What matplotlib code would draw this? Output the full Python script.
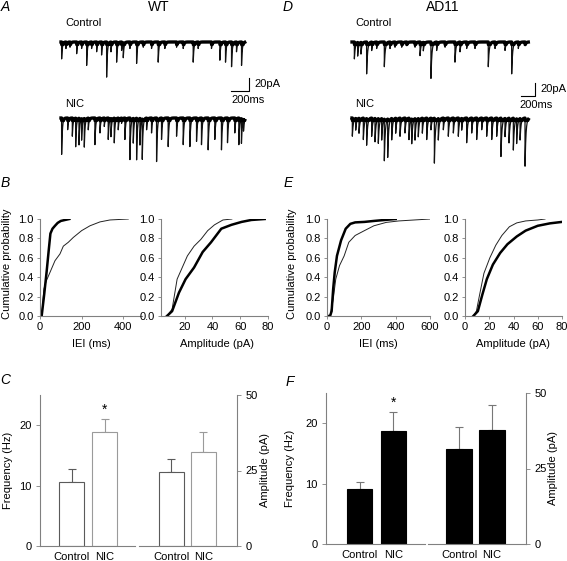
import numpy as np
import matplotlib
matplotlib.use("Agg")
import matplotlib.pyplot as plt

plt.rcParams['font.family'] = ['Liberation Sans', 'DejaVu Sans']
plt.rcParams['font.size'] = 8

W, H = 567, 561

# ---------------- DATA ----------------
# sample traces: event time (ms) and amplitude (pA)
wt_ctrl_t = [7, 55, 100, 174, 229, 285, 340, 396, 451, 507, 555, 618, 673, 692, 766,
             840, 914, 1006, 1080, 1154, 1284, 1358, 1469, 1524, 1672, 1765, 1828,
             1895, 1950, 2006]
wt_ctrl_a = [26, 10, 8, 18, 10, 36, 10, 15, 20, 54, 15, 31, 13, 23, 10,
             33, 8, 10, 31, 10, 8, 10, 31, 10, 10, 28, 31,
             38, 15, 36]
wt_nic_t = [7, 74, 126, 163, 200, 229, 259, 303, 377, 433, 481, 525, 555, 592, 636,
            673, 710, 766, 803, 840, 877, 903, 951, 1006, 1062, 1117, 1191, 1284,
            1358, 1432, 1506, 1561, 1635, 1709, 1783, 1850, 1931, 1976, 2005, 2028]
wt_nic_a = [56, 18, 28, 44, 41, 33, 44, 18, 41, 23, 13, 33, 28, 38, 18,
            8, 33, 64, 38, 64, 41, 62, 18, 23, 67, 33, 44, 28,
            41, 44, 36, 41, 49, 33, 49, 38, 23, 41, 38, 18]
wt_len = 2042

ad_ctrl_t = [34, 81, 128, 209, 281, 352, 462, 543, 614, 710, 781, 900, 972, 1019,
             1128, 1209, 1329, 1471, 1543, 1638, 1757, 1947, 2043, 2186, 2281,
             2376, 2472]
ad_ctrl_a = [26, 21, 18, 49, 13, 10, 38, 10, 8, 8, 5, 8, 21, 13,
             56, 13, 8, 31, 15, 10, 10, 38, 10, 13, 49,
             10, 5]
ad_nic_t = [5, 53, 100, 162, 209, 281, 329, 376, 424, 462, 510, 567, 624, 686, 757,
            814, 853, 900, 947, 1005, 1067, 1128, 1177, 1233, 1305, 1376, 1448,
            1519, 1567, 1638, 1710, 1781, 1853, 1924, 1996, 2067, 2128, 2186,
            2243, 2305, 2352, 2401, 2472]
ad_nic_a = [28, 18, 23, 33, 41, 28, 36, 38, 33, 64, 59, 33, 23, 28, 23,
            33, 38, 33, 28, 23, 33, 18, 69, 33, 18, 28, 23,
            28, 18, 38, 23, 33, 18, 28, 33, 28, 59, 28,
            38, 49, 38, 33, 74]
ad_len = 2519

# cumulative distributions
wt_iei_ctrl_x = [8, 19, 30, 48, 72, 96, 112, 136, 160, 200, 240, 288, 336, 424]
wt_iei_ctrl_p = [0, 0.28, 0.36, 0.45, 0.57, 0.64, 0.72, 0.76, 0.81, 0.88, 0.93, 0.97, 0.99, 1.0]
wt_iei_nic_x = [8, 20, 32, 42, 50, 60, 72, 85, 100, 120, 141]
wt_iei_nic_p = [0, 0.22, 0.46, 0.68, 0.85, 0.9, 0.93, 0.96, 0.98, 0.99, 1.0]
wt_amp_ctrl_x = [7.3, 11, 14.6, 18.3, 22, 26.8, 31.7, 36.6, 41.5, 47.6, 54]
wt_amp_ctrl_p = [0, 0.07, 0.38, 0.5, 0.62, 0.72, 0.79, 0.88, 0.94, 0.99, 1.0]
wt_amp_nic_x = [7.3, 11, 15.9, 20.7, 26.8, 33, 39, 46.4, 53.7, 61, 68, 77.6]
wt_amp_nic_p = [0, 0.05, 0.24, 0.38, 0.5, 0.66, 0.76, 0.9, 0.94, 0.97, 0.99, 1.0]

ad_iei_ctrl_x = [18, 36, 51, 73, 100, 127, 164, 218, 273, 345, 418, 600]
ad_iei_ctrl_p = [0, 0.17, 0.38, 0.52, 0.62, 0.76, 0.83, 0.88, 0.93, 0.965, 0.98, 1.0]
ad_iei_nic_x = [0, 18, 27, 36, 45, 58, 82, 109, 136, 164, 218, 273, 400]
ad_iei_nic_p = [0, 0, 0.05, 0.28, 0.45, 0.62, 0.78, 0.9, 0.95, 0.965, 0.97, 0.98, 1.0]
ad_amp_ctrl_x = [6.9, 9.4, 11.9, 15.6, 20.5, 25.4, 30.4, 36.6, 42.7, 50, 60, 66]
ad_amp_ctrl_p = [0, 0.05, 0.21, 0.44, 0.6, 0.73, 0.83, 0.92, 0.96, 0.98, 0.99, 1.0]
ad_amp_nic_x = [6.9, 10.6, 14.3, 18, 23, 29, 35, 42.7, 50, 60, 70, 80]
ad_amp_nic_p = [0, 0.05, 0.22, 0.38, 0.53, 0.65, 0.74, 0.82, 0.88, 0.93, 0.955, 0.97]

# bar charts: mean and upper SEM
groups = ['Control', 'NIC']
wt_freq = [10.6, 18.95]
wt_freq_err = [2.1, 2.05]
wt_amp = [24.6, 31.2]
wt_amp_err = [4.1, 6.7]
ad_freq = [9.1, 18.7]
ad_freq_err = [1.2, 3.1]
ad_amp = [31.6, 37.7]
ad_amp_err = [7.0, 8.3]

AXC = '#808080'
FS = 8

fig = plt.figure(figsize=(W / 100, H / 100), dpi=100)


def axes_px(x0, y0, x1, y1):
    return fig.add_axes([x0 / W, 1 - y1 / H, (x1 - x0) / W, (y1 - y0) / H])


def text_px(x, y, s, **kw):
    kw.setdefault('ha', 'center')
    kw.setdefault('va', 'center')
    fig.text(x / W, 1 - y / H, s, **kw)


def make_trace(times, amps, t_end, tau):
    t = np.arange(0, t_end, 0.5)
    y = np.zeros_like(t)
    for t0, a in zip(times, amps):
        dt = t - t0
        m = dt >= 0
        y[m] -= a * np.exp(-dt[m] / tau)
    return t, y


def draw_trace(ax, t, y):
    # thin line for the events, thicker band for the noisy baseline
    ax.plot(t, y, color='#111111', lw=0.9)
    ax.plot(t, np.maximum(y, y.max() - 4), color='k', lw=2.4)


# ---------------- TRACES (A, D) ----------------
pa_px = 20 / 13.0


def trace_panel(x0, x1, start_px, ms_px, ctrl, nic, t_len, tau, sb_px, lab_x):
    ax = axes_px(x0, 25, x1, 175)
    ax.axis('off')
    ax.set_xlim((x0 - start_px) * ms_px, (x1 - start_px) * ms_px)
    ax.set_ylim(-(175 - 42) * pa_px, (42 - 25) * pa_px)
    t, y = make_trace(ctrl[0], ctrl[1], t_len, tau)
    draw_trace(ax, t, y)
    t, y = make_trace(nic[0], nic[1], t_len, tau)
    draw_trace(ax, t, y - (118 - 42) * pa_px)
    # scale bar 200 ms / 20 pA
    sx, sy0 = (sb_px[0] - start_px) * ms_px, -(sb_px[1] - 42) * pa_px
    ax.plot([sx - 200, sx, sx], [sy0 - 20, sy0 - 20, sy0], color='k', lw=0.8)
    text_px(lab_x, 23, 'Control', ha='left', fontsize=FS)
    text_px(lab_x, 104, 'NIC', ha='left', fontsize=FS)
    text_px(sb_px[0] + 5, sb_px[1] + 6, '20pA', ha='left', fontsize=FS)
    text_px(sb_px[0] - 100 / ms_px + 8, sb_px[1] + 22, '200ms', fontsize=FS)


trace_panel(55, 282, 61, 200 / 18.0, (wt_ctrl_t, wt_ctrl_a), (wt_nic_t, wt_nic_a),
            wt_len, 8, (249, 78), 65)
trace_panel(345, 567, 352, 200 / 14.0, (ad_ctrl_t, ad_ctrl_a), (ad_nic_t, ad_nic_a),
            ad_len, 13, (535, 83), 355)

# ---------------- CDFs (B, E) ----------------


def style(ax, sides):
    for s in ['left', 'right', 'top', 'bottom']:
        ax.spines[s].set_visible(s in sides)
        ax.spines[s].set_color(AXC)
        ax.spines[s].set_linewidth(0.8)
    ax.tick_params(colors=AXC, labelcolor='k', length=2, width=0.6, labelsize=FS)


def cdf(box, xlim, xticks, ctrl, nic):
    ax = axes_px(*box)
    ax.plot(ctrl[0], ctrl[1], color='#222222', lw=0.7)
    ax.plot(nic[0], nic[1], color='k', lw=1.8)
    ax.set_xlim(*xlim)
    ax.set_ylim(0, 1.0)
    ax.set_xticks(xticks)
    ax.set_yticks(np.arange(0, 1.01, 0.2))
    ax.set_yticklabels(['%.1f' % v for v in np.arange(0, 1.01, 0.2)])
    style(ax, ['left', 'bottom'])
    ax.tick_params(pad=2.5)
    return ax


cdf((40, 219, 142, 316), (0, 490), [0, 200, 400],
    (wt_iei_ctrl_x, wt_iei_ctrl_p), (wt_iei_nic_x, wt_iei_nic_p))
cdf((161, 219, 268, 316), (3, 80), [20, 40, 60, 80],
    (wt_amp_ctrl_x, wt_amp_ctrl_p), (wt_amp_nic_x, wt_amp_nic_p))
cdf((327, 219, 430, 316), (0, 600), [0, 200, 400, 600],
    (ad_iei_ctrl_x, ad_iei_ctrl_p), (ad_iei_nic_x, ad_iei_nic_p))
cdf((465, 219, 562, 316), (0, 80), [0, 20, 40, 60, 80],
    (ad_amp_ctrl_x, ad_amp_ctrl_p), (ad_amp_nic_x, ad_amp_nic_p))

text_px(7, 264, 'Cumulative probability', rotation=90, fontsize=FS)
text_px(292, 264, 'Cumulative probability', rotation=90, fontsize=FS)
text_px(91, 344, 'IEI (ms)', fontsize=FS)
text_px(217, 344, 'Amplitude (pA)', fontsize=FS)
text_px(378, 344, 'IEI (ms)', fontsize=FS)
text_px(513, 344, 'Amplitude (pA)', fontsize=FS)

# ---------------- BARS (C, F) ----------------


def bars(box, xlim, ylim, yticks, vals, errs, fill, edges, width, right=False, star=False):
    ax = axes_px(*box)
    x = np.arange(len(vals))
    ax.bar(x, vals, width=width, color=fill, edgecolor=edges, linewidth=0.8, zorder=2)
    for xi, v, e, c in zip(x, vals, errs, edges):
        ax.errorbar(xi, v, yerr=[[0], [e]], fmt='none', ecolor=c if fill == 'white' else '#777777',
                    elinewidth=0.8, capsize=3, capthick=0.8, zorder=1)
    if star:
        ax.text(1, vals[1] + errs[1] + 0.4, '*', ha='center', va='bottom', fontsize=10)
    ax.set_xlim(*xlim)
    ax.set_ylim(*ylim)
    ax.set_xticks(x)
    ax.set_xticklabels(groups)
    ax.set_yticks(yticks)
    style(ax, ['right', 'bottom'] if right else ['left', 'bottom'])
    ax.tick_params(axis='x', length=0, pad=4)
    ax.tick_params(axis='y', length=3, pad=3)
    if right:
        ax.yaxis.tick_right()
    return ax


wt_edges = ['#5a5a5a', '#9a9a9a']
bars((40, 395, 135, 546), (-0.955, 1.924), (0, 25), [0, 10, 20], wt_freq, wt_freq_err,
     'white', wt_edges, 0.76, star=True)
bars((139, 395, 237, 546), (-1.016, 2.05), (0, 50), [0, 25, 50], wt_amp, wt_amp_err,
     'white', wt_edges, 0.78, right=True)
bars((326, 393, 425, 544), (-1.01, 1.94), (0, 25), [0, 10, 20], ad_freq, ad_freq_err,
     'black', ['black', 'black'], 0.75, star=True)
bars((428, 393, 526, 544), (-0.94, 2.03), (0, 50), [0, 25, 50], ad_amp, ad_amp_err,
     'black', ['black', 'black'], 0.78, right=True)

text_px(8, 470, 'Frequency (Hz)', rotation=90, fontsize=FS)
text_px(265, 470, 'Amplitude (pA)', rotation=90, fontsize=FS)
text_px(290, 468, 'Frequency (Hz)', rotation=90, fontsize=FS)
text_px(553, 468, 'Amplitude (pA)', rotation=90, fontsize=FS)

# ---------------- PANEL LABELS ----------------
for s, x, y in [('A', 5, 7), ('D', 288, 7), ('B', 5, 183), ('E', 288, 183),
                ('C', 5, 380), ('F', 290, 382)]:
    text_px(x, y, s, fontsize=10, style='italic')
text_px(159, 7, 'WT', fontsize=10)
text_px(443, 7, 'AD11', fontsize=10)

fig.savefig('out.png', dpi=100)
